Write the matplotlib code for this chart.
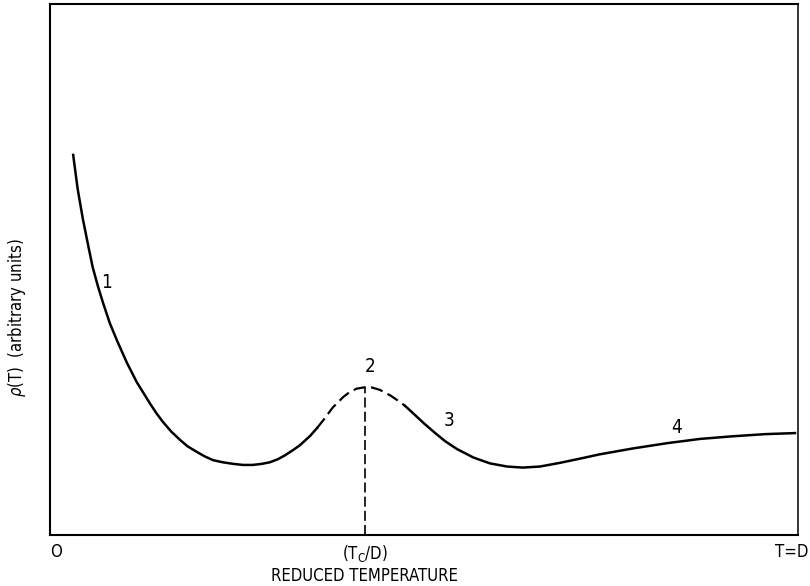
import matplotlib as mpl
import matplotlib.pyplot as plt
from matplotlib import font_manager
from matplotlib.transforms import ScaledTranslation

mpl.use("Agg")

# the original lettering is narrow; use a condensed face when one is installed
cond_path = font_manager.findfont(
    font_manager.FontProperties(family="DejaVu Sans", stretch="condensed"))
if "Condensed" in cond_path:
    plt.rcParams.update({"font.family": ["DejaVu Sans"], "font.stretch": "condensed"})
    label_size = 12
else:
    plt.rcParams.update({"font.family": ["Liberation Sans", "DejaVu Sans"]})
    label_size = 10.5

# reduced temperature T/D and resistivity (arbitrary units)
t_low = [0.031, 0.037, 0.044, 0.051, 0.057, 0.064, 0.071, 0.080, 0.090, 0.103,
         0.116, 0.134, 0.143, 0.151, 0.162, 0.174, 0.184, 0.197, 0.207, 0.218,
         0.231, 0.245, 0.258, 0.271, 0.283, 0.294, 0.305, 0.314, 0.325, 0.334,
         0.348, 0.357]
rho_low = [0.716, 0.652, 0.595, 0.546, 0.505, 0.469, 0.437, 0.399, 0.365, 0.324,
           0.288, 0.247, 0.228, 0.213, 0.195, 0.179, 0.167, 0.156, 0.148, 0.141,
           0.137, 0.134, 0.132, 0.132, 0.134, 0.137, 0.143, 0.150, 0.160, 0.169,
           0.187, 0.2015]

t_peak = [0.357, 0.365, 0.378, 0.392, 0.401, 0.410, 0.421, 0.430, 0.441, 0.455,
          0.468, 0.475]
rho_peak = [0.2015, 0.2156, 0.2401, 0.2599, 0.2697, 0.2757, 0.2783, 0.2780,
            0.2734, 0.2629, 0.2505, 0.2429]

t_high = [0.475, 0.488, 0.501, 0.515, 0.528, 0.544, 0.566, 0.588, 0.611, 0.632,
          0.655, 0.682, 0.709, 0.735, 0.779, 0.825, 0.869, 0.913, 0.956, 0.996]
rho_high = [0.2429, 0.226, 0.209, 0.192, 0.177, 0.162, 0.146, 0.135, 0.129, 0.127,
            0.129, 0.136, 0.144, 0.152, 0.163, 0.173, 0.181, 0.186, 0.190, 0.192]

tc = 0.421
tick_pos = [0.0, tc, 1.0]
tick_labels = ["O", r"(T$_\mathregular{C}$/D)", "T=D"]

region_labels = ["1", "2", "3", "4"]
region_t = [0.076, 0.428, 0.533, 0.837]
region_rho = [0.475, 0.318, 0.215, 0.203]

fig = plt.figure(figsize=(8.1, 5.86), dpi=100)
ax = fig.add_axes([0.0617, 0.087, 0.9235, 0.906])

ax.plot(t_low, rho_low, color="k", lw=1.8, solid_joinstyle="round")
ax.plot(t_peak, rho_peak, color="k", lw=1.6, dashes=(5.5, 2.5))
ax.plot(t_high, rho_high, color="k", lw=1.8, solid_joinstyle="round")
ax.plot([tc, tc], [0, max(rho_peak)], color="k", lw=1.2, dashes=(6, 2.5))

for lab, x, y in zip(region_labels, region_t, region_rho):
    ax.text(x, y, lab, ha="center", va="center", fontsize=label_size + 1.5)

ax.set_xlim(0, 1)
ax.set_ylim(0, 1)
ax.set_yticks([])
ax.set_xticks(tick_pos, labels=tick_labels)
ax.tick_params(axis="x", length=0, pad=6, labelsize=label_size)
xl = ax.get_xticklabels()
xl[0].set_ha("left")
xl[-1].set_ha("right")
xl[-1].set_transform(xl[-1].get_transform()
                     + ScaledTranslation(0.1, 0, fig.dpi_scale_trans))
for s in ax.spines.values():
    s.set_linewidth(1.5)
ax.spines["right"].set_linewidth(1.1)

ax.set_xlabel("REDUCED TEMPERATURE", fontsize=label_size)
ax.xaxis.set_label_coords(0.42, -0.06)
ax.set_ylabel(r"$\rho$(T)  (arbitrary units)", fontsize=label_size)
ax.yaxis.set_label_coords(-0.03, 0.41)

plt.savefig("out.png", dpi=100)
